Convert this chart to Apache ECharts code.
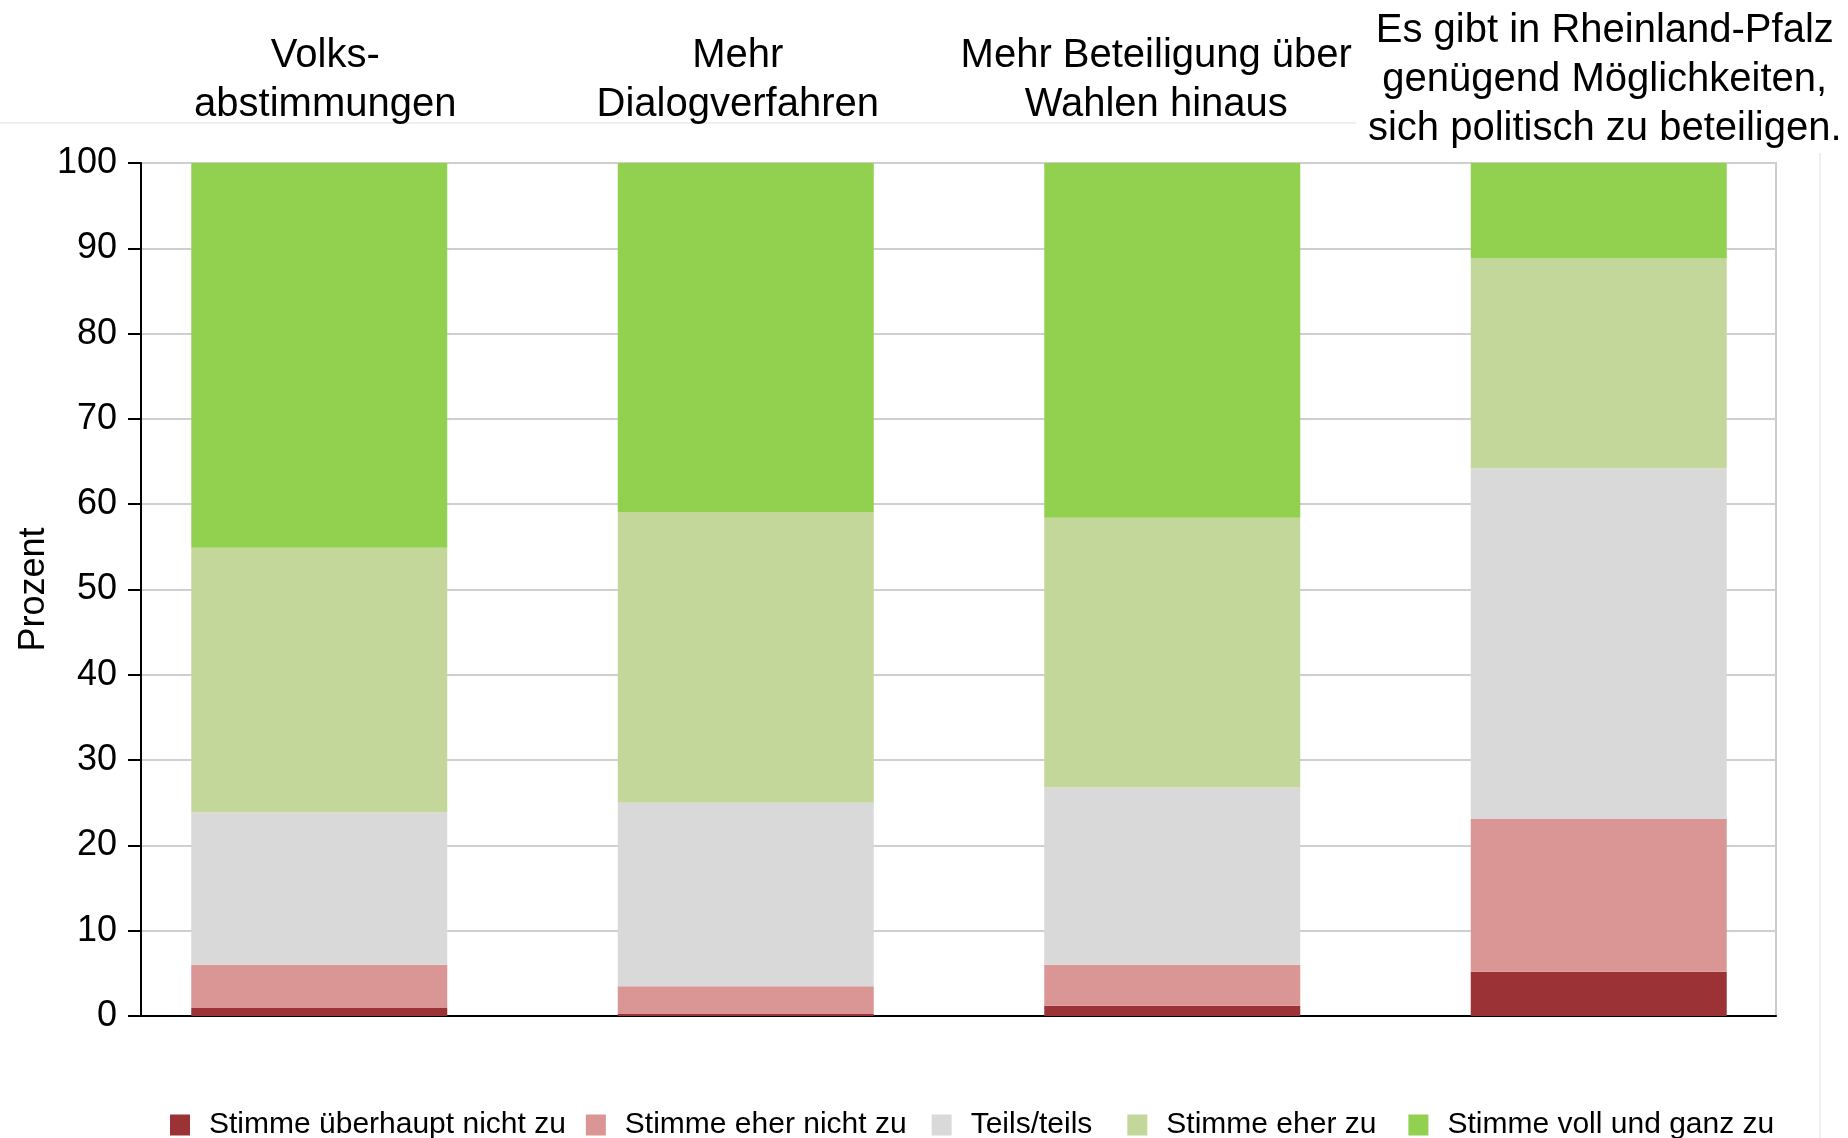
<!DOCTYPE html>
<html>
<head>
<meta charset="utf-8">
<script src="https://cdn.jsdelivr.net/npm/echarts@6/dist/echarts.min.js"></script>
<style>
  html, body { margin: 0; padding: 0; background: #ffffff; }
  #chart { width: 1848px; height: 1138px; }
</style>
</head>
<body>
<div id="chart"></div>
<script>
// Survey items shown along the top of the chart
const categories = [
  'Volks-\nabstimmungen',
  'Mehr\nDialogverfahren',
  'Mehr Beteiligung über\nWahlen hinaus',
  'Es gibt in Rheinland-Pfalz\ngenügend Möglichkeiten,\nsich politisch zu beteiligen.'
];

// Answer levels, bottom to top of each stack
const answerLevels = [
  'Stimme überhaupt nicht zu',
  'Stimme eher nicht zu',
  'Teils/teils',
  'Stimme eher zu',
  'Stimme voll und ganz zu'
];

// Shares in percent per item
const ueberhauptNicht = [1.0, 0.3, 1.2, 5.2];
const eherNicht       = [5.0, 3.2, 4.8, 17.9];
const teilsTeils      = [17.9, 21.5, 20.8, 41.1];
const eherZu          = [31.0, 34.1, 31.6, 24.6];
const vollUndGanz     = [45.1, 40.9, 41.6, 11.2];

const yTicks = { min: 0, max: 100, interval: 10 };

const levelValues = [ueberhauptNicht, eherNicht, teilsTeils, eherZu, vollUndGanz];
const levelColors = ['#9b3336', '#da9694', '#d9d9d9', '#c4d79b', '#92d050'];

const FONT = "'Liberation Sans', Arial, Helvetica, sans-serif";

// caption padding: two-line captions sit half a line higher, plus small horizontal nudges
const captionPadding = [
  [0, 0, 24, 12],
  [0, 16, 24, 0],
  [0, 32, 24, 0],
  [0, 0, 0, 12]
];

// extra space after some legend entries
const legendPadRight = [0, 5, 15, 12, 0];

const chart = echarts.init(document.getElementById('chart'), null, { renderer: 'canvas' });

chart.setOption({
  animation: false,
  backgroundColor: '#ffffff',
  graphic: [{
    type: 'rect',
    z: -10,
    silent: true,
    shape: { x: -4, y: 123, width: 1824, height: 1100 },
    style: { fill: 'none', stroke: '#e4ebef', lineWidth: 1.5 }
  }],
  grid: [
    // frame with y axis and horizontal rules
    { left: 141, right: 72, top: 163, bottom: 122, show: true,
      outerBoundsMode: 'none', containLabel: false,
      backgroundColor: 'transparent', borderColor: '#cccccc', borderWidth: 2 },
    // stacked bars
    { left: 106, right: 36, top: 163, bottom: 122,
      outerBoundsMode: 'none', containLabel: false }
  ],
  legend: {
    left: 165,
    top: 1105,
    itemWidth: 20,
    itemHeight: 21,
    itemGap: 20,
    icon: 'rect',
    data: answerLevels.map((n, i) => ({
      name: n,
      textStyle: { padding: [0, legendPadRight[i], 0, 14] }
    })),
    textStyle: {
      fontFamily: FONT,
      fontSize: 30,
      color: '#000000',
      lineHeight: 30,
      padding: [0, 0, 0, 14]
    }
  },
  xAxis: [
    {
      gridIndex: 0,
      type: 'category',
      data: categories,
      position: 'bottom',
      axisLine: { show: true, lineStyle: { color: '#000000', width: 2 } },
      axisTick: { show: false },
      axisLabel: { show: false },
      splitLine: { show: false }
    },
    {
      gridIndex: 1,
      type: 'category',
      position: 'top',
      data: categories.map((c, i) => ({
        value: c,
        textStyle: i === 3
          ? { padding: captionPadding[i], backgroundColor: '#ffffff' }
          : { padding: captionPadding[i] }
      })),
      axisLine: { show: false },
      axisTick: { show: false },
      axisLabel: {
        interval: 0,
        margin: 10,
        align: 'center',
        fontFamily: FONT,
        fontSize: 40,
        lineHeight: 49,
        color: '#000000'
      }
    }
  ],
  yAxis: [
    {
      gridIndex: 0,
      type: 'value',
      min: yTicks.min,
      max: yTicks.max,
      interval: yTicks.interval,
      name: 'Prozent',
      nameLocation: 'middle',
      nameGap: 89,
      nameRotate: 90,
      nameMoveOverlap: false,
      nameTextStyle: { fontFamily: FONT, fontSize: 36, color: '#000000' },
      axisLine: { show: true, lineStyle: { color: '#000000', width: 2 } },
      axisTick: { show: true, length: 13, lineStyle: { color: '#000000', width: 2 } },
      axisLabel: { margin: 24, fontFamily: FONT, fontSize: 36, color: '#000000' },
      splitLine: { show: true, lineStyle: { color: '#cfcfcf', width: 2 } }
    },
    {
      gridIndex: 1,
      type: 'value',
      min: yTicks.min,
      max: yTicks.max,
      show: false
    }
  ],
  series: answerLevels.map((name, i) => ({
    name: name,
    type: 'bar',
    xAxisIndex: 1,
    yAxisIndex: 1,
    stack: 'antworten',
    barWidth: 256,
    itemStyle: { color: levelColors[i] },
    data: levelValues[i]
  }))
});
</script>
</body>
</html>
